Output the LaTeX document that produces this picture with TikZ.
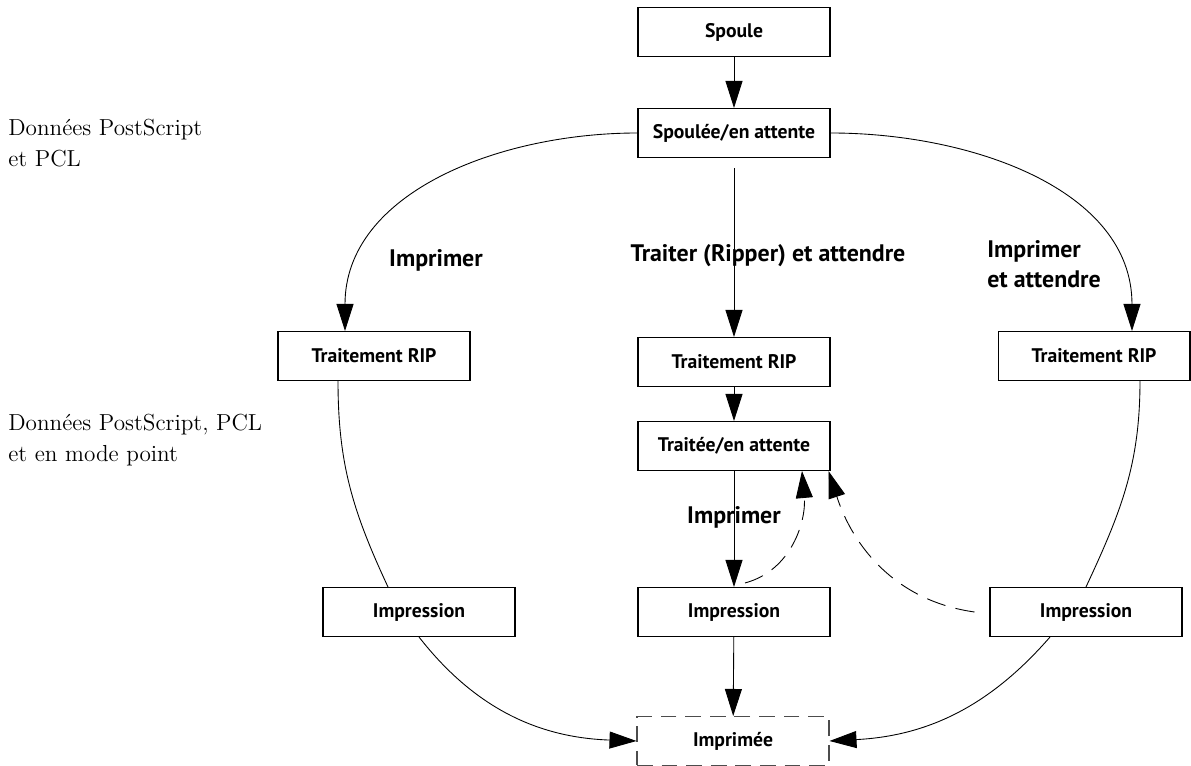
\documentclass[tikz,border=0pt]{standalone}
\usepackage{fontspec}
\newfontfamily\boxfont{PT Sans}
\usetikzlibrary{arrows.meta}

\begin{document}
\begin{tikzpicture}[
    x=0.02cm, y=-0.02cm,
    state/.style={draw, line width=0.6pt, minimum width=3.84cm, minimum height=0.98cm, inner sep=0pt,
                  font=\boxfont\bfseries\fontsize{11.2}{13}\selectfont},
    donebox/.style={state, draw=black!70, dash pattern=on 9pt off 5pt},
    arr/.style={-{Triangle[length=0.54cm, width=0.34cm]}, line width=0.5pt},
    darr/.style={arr, dash pattern=on 11pt off 6pt},
    lbl/.style={font=\boxfont\bfseries\fontsize{13.6}{17}\selectfont, inner sep=0pt},
    side/.style={font=\fontsize{13.2}{18}\selectfont, align=left, anchor=base west, inner sep=0pt},
  ]
    \useasboundingbox (0,0) rectangle (1191,766);

    % === side notes (base = last line) ===
    \node[side] (noteA) at (8,167) {Données PostScript\\et PCL};
    \node[side] (noteB) at (8,462) {Données PostScript, PCL\\et en mode point};

    % === states ===
    \node[state] (spool) at (734,32) {Spoule};
    \node[state] (spooled) at (734,133) {Spoulée/en attente};

    \node[state] (ripL) at (374,356) {Traitement RIP};
    \node[state] (ripM) at (734,362) {Traitement RIP};
    \node[state] (ripR) at (1094,356) {Traitement RIP};

    \node[state] (held) at (734,446) {Traitée/en attente};

    \node[state] (prtL) at (419,612) {Impression};
    \node[state] (prtM) at (734,612) {Impression};
    \node[state] (prtR) at (1086,612) {Impression};

    \node[donebox] (done) at (733,741) {Imprimée};

    % === labels on the paths ===
    \node[lbl] (lblL) at (436,260) {Imprimer};
    \node[lbl, fill=white, inner ysep=0.2cm] (lblM) at (768,256) {Traiter (Ripper) et attendre};
    \node[lbl, align=left, anchor=east] (lblR) at (1101,264) {Imprimer\\et attendre};
    \node[lbl, fill=white, inner ysep=0.18cm] (lblP) at (734,517) {Imprimer};

    % === straight arrows ===
    \draw[arr] (spool) -- (spooled);
    \draw[arr, shorten <=0.2cm] (spooled) -- (ripM);
    \draw[arr] (ripM) -- (held);
    \draw[arr] (held) -- (prtM);
    \draw[arr] (prtM) -- (done);

    % === left branch ===
    \draw[arr] (spooled.west) to[out=180, in=90] ([xshift=-0.58cm]ripL.north);
    \draw[line width=0.5pt] ([xshift=-0.72cm]ripL.south) to[out=-90, in=115] ([xshift=-0.62cm]prtL.north);
    \draw[arr] (prtL.south) to[out=-52, in=178] (done.west);

    % === right branch ===
    \draw[arr] (spooled.east) to[out=0, in=90] ([xshift=0.76cm]ripR.north);
    \draw[line width=0.5pt] ([xshift=0.92cm]ripR.south) to[out=-90, in=65] (prtR.north);
    \draw[arr] ([xshift=-0.72cm]prtR.south) to[out=-131, in=3] (done.east);

    % === back to held ===
    \draw[darr] ([xshift=0.22cm, yshift=0.08cm]prtM.north) to[out=15, in=-85] ([xshift=1.36cm]held.south);
    \draw[darr] ([xshift=-0.3cm]prtR.west) to[out=172, in=-72] ([xshift=-0.04cm]held.south east);
  \end{tikzpicture}
\end{document}
